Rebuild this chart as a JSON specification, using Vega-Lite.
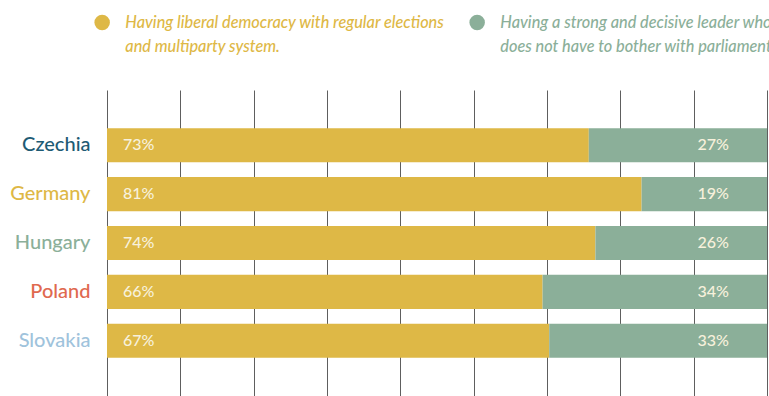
{
  "$schema": "https://vega.github.io/schema/vega-lite/v6.json",
  "width": 660,
  "height": 306,
  "autosize": {"type": "none"},
  "padding": {"left": 107, "top": 90, "right": 2, "bottom": 0},
  "background": "white",
  "config": {"view": {"stroke": null}, "font": "Lato"},
  "data": {
    "values": [
      {"country": "Czechia", "category": "Having liberal democracy with regular elections and multiparty system.", "ord": 1, "value": 73},
      {"country": "Czechia", "category": "Having a strong and decisive leader who does not have to bother with parliament and elections.", "ord": 2, "value": 27},
      {"country": "Germany", "category": "Having liberal democracy with regular elections and multiparty system.", "ord": 1, "value": 81},
      {"country": "Germany", "category": "Having a strong and decisive leader who does not have to bother with parliament and elections.", "ord": 2, "value": 19},
      {"country": "Hungary", "category": "Having liberal democracy with regular elections and multiparty system.", "ord": 1, "value": 74},
      {"country": "Hungary", "category": "Having a strong and decisive leader who does not have to bother with parliament and elections.", "ord": 2, "value": 26},
      {"country": "Poland", "category": "Having liberal democracy with regular elections and multiparty system.", "ord": 1, "value": 66},
      {"country": "Poland", "category": "Having a strong and decisive leader who does not have to bother with parliament and elections.", "ord": 2, "value": 34},
      {"country": "Slovakia", "category": "Having liberal democracy with regular elections and multiparty system.", "ord": 1, "value": 67},
      {"country": "Slovakia", "category": "Having a strong and decisive leader who does not have to bother with parliament and elections.", "ord": 2, "value": 33}
    ]
  },
  "encoding": {
    "y": {
      "field": "country",
      "type": "nominal",
      "sort": ["Czechia", "Germany", "Hungary", "Poland", "Slovakia"],
      "scale": {"paddingInner": 0.3, "paddingOuter": 0.78},
      "axis": {
        "title": null,
        "ticks": false,
        "domain": false,
        "labelPadding": 17,
        "labelFont": "Lato",
        "labelFontSize": 20,
        "labelFontWeight": 500,
        "labelColor": {"expr": "datum.value == 'Czechia' ? '#1e5b74' : datum.value == 'Germany' ? '#deb846' : datum.value == 'Hungary' ? '#8baf99' : datum.value == 'Poland' ? '#e0694f' : '#9fc3dc'"}
      }
    }
  },
  "layer": [
    {
      "mark": {"type": "bar"},
      "encoding": {
        "x": {
          "field": "value",
          "type": "quantitative",
          "stack": "zero",
          "scale": {"domain": [0, 100], "nice": false},
          "axis": {
            "title": null,
            "values": [0, 11.1111, 22.2222, 33.3333, 44.4444, 55.5556, 66.6667, 77.7778, 88.8889, 100],
            "labels": false,
            "ticks": false,
            "domain": false,
            "grid": true,
            "gridColor": "#5e5e5e",
            "gridWidth": 1
          }
        },
        "color": {
          "field": "category",
          "type": "nominal",
          "scale": {
            "domain": ["Having liberal democracy with regular elections and multiparty system.", "Having a strong and decisive leader who does not have to bother with parliament and elections."],
            "range": ["#deb846", "#8baf99"]
          },
          "legend": {
            "title": null,
            "orient": "none",
            "legendX": -13,
            "legendY": -76,
            "direction": "horizontal",
            "columns": 2,
            "padding": 0,
            "columnPadding": 24,
            "symbolType": "circle",
            "symbolSize": 240,
            "symbolStrokeWidth": 0,
            "symbolOpacity": 1,
            "labelFont": "Lato",
            "labelFontSize": 16.3,
            "labelFontStyle": "italic",
            "labelFontWeight": 500,
            "labelOffset": 15,
            "labelLimit": 600,
            "labelColor": {"expr": "test(/liberal/, datum.label) ? '#deb846' : '#8baf99'"},
            "labelExpr": "test(/liberal/, datum.label) ? ['Having liberal democracy with regular elections', 'and multiparty system.'] : ['Having a strong and decisive leader who', 'does not have to bother with parliament and elections.']",
            "encode": {"labels": {"update": {"lineHeight": {"value": 24}, "dy": {"value": 1}}}}
          }
        },
        "order": {"field": "ord", "type": "quantitative"}
      }
    },
    {
      "transform": [{"filter": "datum.ord == 1"}, {"calculate": "datum.value + '%'", "as": "lbl"}],
      "mark": {"type": "text", "align": "left", "baseline": "middle", "dx": 16, "font": "Lato", "fontSize": 16, "fontWeight": 500, "color": "#f7f1dc"},
      "encoding": {
        "x": {"datum": 0, "type": "quantitative"},
        "text": {"field": "lbl"}
      }
    },
    {
      "transform": [{"filter": "datum.ord == 2"}, {"calculate": "datum.value + '%'", "as": "lbl"}],
      "mark": {"type": "text", "align": "right", "baseline": "middle", "dx": -38, "font": "Lato", "fontSize": 16, "fontWeight": 500, "color": "#f7f1dc"},
      "encoding": {
        "x": {"datum": 100, "type": "quantitative"},
        "text": {"field": "lbl"}
      }
    }
  ]
}
